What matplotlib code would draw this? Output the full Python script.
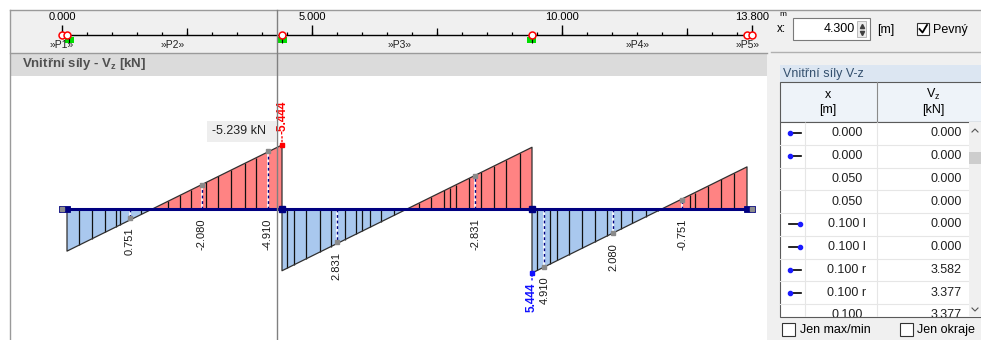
import numpy as np
import matplotlib.pyplot as plt
from matplotlib.patches import Rectangle

plt.rcParams['font.family'] = ['Liberation Sans', 'DejaVu Sans']
plt.rcParams['mathtext.fontset'] = 'custom'
plt.rcParams['mathtext.rm'] = 'Liberation Sans'
plt.rcParams['mathtext.bf'] = 'Liberation Sans:bold'

# --- data: shear force Vz [kN] along the beam x [m] (positive drawn downward) ---
span_x0 = [0.1, 4.4, 9.4]
span_x1 = [4.4, 9.4, 13.7]
span_v0 = [3.582, 5.25, 5.444]
span_v1 = [-5.444, -5.25, -3.582]

beam_len = 13.8
supports = [4.4, 9.4]
beam_ends = [0.05, 13.75]

# result points drawn as vertical lines inside the diagram
hatch_x = [0.34, 0.61, 0.86, 1.09, 1.17, 1.59, 2.13, 2.36, 2.59, 2.89, 3.13, 3.39, 3.66, 3.89,
           4.51, 4.64, 4.89, 5.15, 5.38, 5.65, 5.89, 6.01, 6.16, 6.38, 6.65, 7.14, 7.38, 7.65,
           7.76, 7.89, 8.15, 8.39, 8.65, 8.88, 9.16,
           9.51, 9.76, 9.91, 10.15, 10.41, 10.66, 10.91, 11.18, 11.41, 11.68, 11.93, 12.56,
           12.66, 12.93, 13.19, 13.45]

label_x = [1.36, 2.80, 4.11, 5.49, 8.27, 9.65, 11.03, 12.41]
label_v = [0.751, -2.080, -4.910, 2.831, -2.831, 4.910, 2.080, -0.751]

ext_x = [4.4, 9.4]
ext_v = [-5.444, 5.444]

cut_x = 4.3
cut_text = '-5.239 kN'

ruler_ticks = [0, 5, 10, 13.8]
ruler_labels = ['0.000', '5.000', '10.000', '13.800']
member_x = [0.0, 2.22, 6.76, 11.52, 13.72]
member_names = ['»P1»', '»P2»', '»P3»', '»P4»', '»P5»']
node_x = [0.0, 0.1, 4.4, 9.4, 13.7, 13.8]
green_x = [0.15, 4.4, 9.4]

tab_icon = ['<', '<', '', '', '>', '>', '<', '<', '']
tab_x = ['0.000', '0.000', '0.050', '0.050', '0.100 l', '0.100 l', '0.100 r', '0.100 r', '0.100']
tab_vz = ['0.000', '0.000', '0.000', '0.000', '0.000', '0.000', '3.582', '3.377', '3.377']

BLUE = '#a9c8ee'
RED = '#ff8383'
NAVY = '#000080'

W, H = 981, 340
PX_M = 50.0      # pixels per metre
PX_KN = 11.76    # pixels per kN


def frac(x0, y0, x1, y1):
    return [x0 / W, 1 - y1 / H, (x1 - x0) / W, (y1 - y0) / H]


fig = plt.figure(figsize=(W / 100, H / 100), dpi=100)

# --- window frame (pixel coordinates) ---
ui = fig.add_axes([0, 0, 1, 1])
ui.set_xlim(0, W)
ui.set_ylim(H, 0)
ui.axis('off')

ui.add_patch(Rectangle((10, 10), 757, 43, fc='#f0f0f0', ec='none'))
ui.add_patch(Rectangle((767, 10), 214, 42, fc='#f0f0f0', ec='none'))
ui.add_patch(Rectangle((10, 53), 757, 23, fc='#dbdbdb', ec='none'))
ui.add_patch(Rectangle((767, 52), 214, 288, fc='#f0f0f0', ec='none'))
ui.plot([10, W], [10, 10], color='#9a9a9a', lw=1)
ui.plot([10, 767], [53, 53], color='#9a9a9a', lw=1)
ui.plot([771, W], [52, 52], color='#b0b0b0', lw=1)
ui.plot([10, 10], [10, H], color='#9a9a9a', lw=1)
ui.text(22, 64.5, r'Vnitřní síly - V$_{\mathbf{z}}$ [kN]', fontsize=9.5, fontweight='bold',
        color='#505050', va='center')

# toolbar on the right
ui.text(779, 14, 'm', fontsize=6, va='center')
ui.text(777, 29.5, 'x:', fontsize=8.5, va='center')
ui.add_patch(Rectangle((793, 18), 77, 22, fc='white', ec='#7a7a7a', lw=0.8))
ui.text(855, 29.5, '4.300', fontsize=9, ha='right', va='center')
ui.add_patch(Rectangle((857, 21), 9, 16, fc='#ececec', ec='#b0b0b0', lw=0.6))
ui.plot([861.5], [25.5], marker='^', ms=3, color='#404040')
ui.plot([861.5], [32.5], marker='v', ms=3, color='#404040')
ui.text(877, 29.5, '[m]', fontsize=9, va='center')
ui.add_patch(Rectangle((917, 23), 12, 12, fc='white', ec='#333333', lw=0.8))
ui.plot([919.5, 922.5, 927], [29, 32.5, 25], color='black', lw=1.3)
ui.text(933, 29.5, 'Pevný', fontsize=9, va='center')

# table panel
ROW_TOP, ROW_H, TAB_BOT = 122, 22.75, 317
ui.add_patch(Rectangle((780, 65), 201, 17, fc='#dce6f2', ec='none'))
ui.text(783, 73.5, 'Vnitřní síly V-z', fontsize=9, color='#34506e', va='center')
ui.add_patch(Rectangle((780, 82), 205, ROW_TOP - 82, fc='#eef3f9', ec='#5a5a5a', lw=0.8))
ui.add_patch(Rectangle((780, ROW_TOP), 205, TAB_BOT - ROW_TOP, fc='white', ec='#5a5a5a', lw=0.8))
ui.plot([877, 877], [82, ROW_TOP], color='#8a8a8a', lw=0.8)
ui.text(828, 94.5, 'x', fontsize=9, ha='center', va='center')
ui.text(828, 110.5, '[m]', fontsize=9, ha='center', va='center')
ui.text(933, 94.5, r'V$_{\mathrm{z}}$', fontsize=9, ha='center', va='center')
ui.text(933, 110.5, '[kN]', fontsize=9, ha='center', va='center')
ui.add_patch(Rectangle((969, ROW_TOP), 12, TAB_BOT - ROW_TOP, fc='#f0f0f0', ec='none'))
ui.add_patch(Rectangle((969, 152), 12, 12, fc='#cdcdcd', ec='none'))
ui.plot([972, 975, 978], [132, 129, 132], color='#555555', lw=0.8)
ui.plot([972, 975, 978], [308, 311, 308], color='#555555', lw=0.8)

ui.add_patch(Rectangle((782, 323), 13, 13, fc='white', ec='#333333', lw=0.8))
ui.text(800, 330, 'Jen max/min', fontsize=9, va='center')
ui.add_patch(Rectangle((900, 323), 13, 13, fc='white', ec='#333333', lw=0.8))
ui.text(917, 330, 'Jen okraje', fontsize=9, va='center')

# tooltip at the cut
ui.add_patch(Rectangle((207, 121), 69, 21, fc='#eeeeee', ec='none'))
ui.text(239, 131.5, cut_text, fontsize=9, ha='center', va='center', color='#222222')

# --- table body ---
tab = fig.add_axes(frac(780, ROW_TOP, 969, TAB_BOT))
tab.set_xlim(780, 969)
tab.set_ylim(TAB_BOT, ROW_TOP)
tab.axis('off')
for k, (ic, xs, vs) in enumerate(zip(tab_icon, tab_x, tab_vz)):
    yc = ROW_TOP + ROW_H * k + ROW_H / 2
    tab.plot([780, 969], [ROW_TOP + ROW_H * (k + 1)] * 2, color='#e6e6e6', lw=0.8)
    if ic == '<':
        tab.plot([789, 801], [yc, yc], color='black', lw=1.2)
        tab.plot([790], [yc], 'o', ms=3, color='#1a1aff')
    elif ic == '>':
        tab.plot([789, 801], [yc, yc], color='black', lw=1.2)
        tab.plot([800], [yc], 'o', ms=3, color='#1a1aff')
    tab.text(847, yc, xs, fontsize=9, ha='center', va='center', color='#202020', clip_on=True)
    tab.text(962, yc, vs, fontsize=9, ha='right', va='center', color='#202020', clip_on=True)
tab.vlines([805, 877], ROW_TOP, TAB_BOT, color='#e6e6e6', lw=0.8)

# --- ruler ---
rul = fig.add_axes(frac(10, 10, 767, 53))
rul.set_xlim((10 - 62) / PX_M, (767 - 62) / PX_M)
rul.set_ylim(53, 10)
rul.axis('off')
rul.hlines(35, 0, beam_len, color='black', lw=1)
rul.vlines(np.arange(0, beam_len, 0.5), 31.5, 35, color='black', lw=0.9)
rul.vlines([2.5, 7.5, 12.5], 28, 35, color='black', lw=0.9)
rul.vlines(ruler_ticks, 25, 35, color='black', lw=1)
for t, s in zip(ruler_ticks, ruler_labels):
    rul.text(t, 17, s, fontsize=8, ha='center', va='center')
for gx in green_x:
    rul.add_patch(Rectangle((gx - 0.09, 37), 0.18, 6, fc='#00dd00', ec='none'))
    rul.vlines(gx, 37, 43, color='black', lw=0.8)
rul.plot(node_x, [35] * len(node_x), 'o', ms=5, mfc='white', mec='red', mew=1.1)
for mx, name in zip(member_x, member_names):
    rul.text(mx, 45.5, name, fontsize=7.5, ha='center', va='center', color='#222222')

# --- shear diagram ---
ax = fig.add_axes(frac(10, 76, 767, 340))
ax.set_xlim((10 - 62) / PX_M, (767 - 62) / PX_M)
ax.set_ylim((340 - 209) / PX_KN, (76 - 209) / PX_KN)
ax.axis('off')

for x0, x1, v0, v1 in zip(span_x0, span_x1, span_v0, span_v1):
    xc = x0 + v0 / (v0 - v1) * (x1 - x0)
    ax.fill([x0, x0, xc], [0, v0, 0], color=BLUE, lw=0, zorder=1)
    ax.fill([xc, x1, x1], [0, v1, 0], color=RED, lw=0, zorder=1)
    ax.plot([x0, x0, x1, x1], [0, v0, v1, 0], color='#303030', lw=0.9, zorder=3)

hx = np.array(hatch_x)
idx = np.searchsorted(span_x1, hx)
hv = [np.interp(x, [span_x0[i], span_x1[i]], [span_v0[i], span_v1[i]]) for x, i in zip(hx, idx)]
ax.vlines(hx, 0, hv, color='#111111', lw=0.9, zorder=2)

ax.vlines(label_x, 0, label_v, color='white', lw=1.2, zorder=2.5)
ax.vlines(label_x, 0, label_v, color=NAVY, lw=1.0, linestyles=(0, (2, 2)), zorder=2.6)
ax.plot(label_x, label_v, 's', ms=2.5, color='#8a8a8a', zorder=4)
for x, v in zip(label_x, label_v):
    ax.annotate(f'{v:.3f}', xy=(x, max(v, 0)), xytext=(0, -7), textcoords='offset points',
                rotation=90, ha='center', va='top', fontsize=8, color='#1a1a1a')

ax.plot([0, beam_len], [0, 0], color=NAVY, lw=2.2, zorder=5, solid_capstyle='butt')
end_w, end_h = 11 / PX_M, 6 / PX_KN
for ex in beam_ends:
    ax.add_patch(Rectangle((ex - end_w / 2, -end_h / 2), end_w, end_h, fc=NAVY, ec=NAVY,
                           lw=0.6, zorder=6))
ax.plot([0, beam_len], [0, 0], 's', ms=3, color='#8c8c8c', zorder=7)
ax.plot(supports, [0] * len(supports), 's', ms=5, color=NAVY, zorder=6)

ext_col = ['#ff0000', '#1010ff']
for x, v, c in zip(ext_x, ext_v, ext_col):
    up = v < 0
    ax.plot([x], [v], 's', ms=3, color=c, zorder=7)
    ax.annotate(f'{v:.3f}', xy=(x, v), xytext=(0, 8 if up else -7), textcoords='offset points',
                rotation=90, ha='center', va='bottom' if up else 'top', fontsize=8.5,
                fontweight='bold', color=c,
                arrowprops=dict(arrowstyle='-', linestyle=':', color=c, lw=1, shrinkA=0, shrinkB=0))

ax.axvline(cut_x, ymin=0, ymax=(340 - 10) / 264, color='#808080', lw=1, clip_on=False, zorder=8)

fig.savefig('out.png', dpi=100)
